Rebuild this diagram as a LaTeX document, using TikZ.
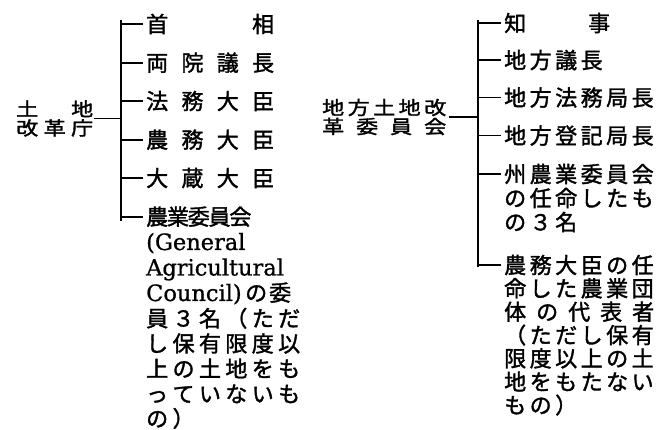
\documentclass[tikz,border=0pt]{standalone}
\usepackage{fontspec}
\usepackage{graphicx}
\setmainfont{DejaVu Serif}
\newfontfamily\jp{Noto Sans CJK JP}[FakeBold=1.6]
\newfontfamily\lat{DejaVu Serif}[FakeBold=0.8]
\newcommand\jpf{\jp\fontsize{22pt}{26pt}\selectfont}
\newcommand\latf{\lat\fontsize{22.5pt}{26pt}\selectfont}
\newlength\cpitch
\def\pl#1#2{\ifx\relax#2#1\else\hbox to\cpitch{#1\hss}\expandafter\pl\expandafter#2\fi}
\newcommand\spaced[2]{\setlength\cpitch{#1}\pl#2\relax}
\newcommand\sq[2]{\scalebox{1}[0.85]{\spaced{#1}{#2}}}
\tikzset{
  item/.style={anchor=base west, inner sep=0pt, font=\jpf},
  latline/.style={anchor=base west, inner sep=0pt, font=\latf},
  parent/.style={anchor=west, inner sep=0pt, align=left, font=\jp\fontsize{22pt}{19pt}\selectfont},
  conn/.style={line width=1.8pt, draw=black}
}
\begin{document}
\begin{tikzpicture}[x=1pt,y=-1pt]
\useasboundingbox[fill=white] (0,0) rectangle (672,430);

% ---- left tree ----
\coordinate (barLtop) at (121,20);
\coordinate (barLbot) at (121,221);
\node[parent] (lp) at (16,118.5) {\sq{27.5pt}{土　地}\\\sq{27.5pt}{改革庁}};

\node[item] (L1) at (146,32.4) {\spaced{35.3pt}{首　　相}};
\node[item] (L2) at (146,71) {\spaced{35.3pt}{両院議長}};
\node[item] (L3) at (146,109.4) {\spaced{35.3pt}{法務大臣}};
\node[item] (L4) at (146,148) {\spaced{35.3pt}{農務大臣}};
\node[item] (L5) at (146,186.4) {\spaced{35.3pt}{大蔵大臣}};
\node[item] (L6) at (146,225) {\spaced{20.8pt}{農業委員会}};
\node[latline] (L6b) at (146,250) {(General};
\node[latline] (L6c) at (146,275.5) {Agricultural};
\node[item] (L6d) at (146,301) {\makebox[99pt][l]{\latf Council)}\spaced{24pt}{の委}};
\node[item] (L6e) at (146,326.6) {\spaced{26.4pt}{員３名（ただ}};
\node[item] (L6f) at (146,351.8) {\spaced{26.4pt}{し保有限度以}};
\node[item] (L6g) at (146,377) {\spaced{26.4pt}{上の土地をも}};
\node[item] (L6h) at (146,402.2) {\spaced{26.4pt}{っていないも}};
\node[item] (L6i) at (146,426.8) {\spaced{26.4pt}{の）}};

\draw[conn] (barLtop) -- (barLbot);
\draw[conn] ([xshift=1pt]lp.east) -- (lp.east -| barLtop);
\foreach \n in {L1,L2,L3,L4,L5,L6}
  \draw[conn] (\n.west -| barLtop) -- ([xshift=-3pt]\n.west);

% ---- right tree ----
\coordinate (barRtop) at (478,20);
\coordinate (barRbot) at (478,267);
\node[parent] (rp) at (322,117) {\sq{25.5pt}{地方土地改}\\\sq{34pt}{革委員会}};

\node[item] (R1) at (504,31.4) {\spaced{28pt}{知　　事}};
\node[item] (R2) at (504,68.4) {\spaced{25.5pt}{地方議長}};
\node[item] (R3) at (504,105.9) {\spaced{25.5pt}{地方法務局長}};
\node[item] (R4) at (504,143.9) {\spaced{25.5pt}{地方登記局長}};
\node[item] (R5) at (504,182.4) {\spaced{25.5pt}{州農業委員会}};
\node[item] (R5b) at (504,206.4) {\spaced{25.5pt}{の任命したも}};
\node[item] (R5c) at (504,230.4) {\spaced{25.5pt}{の３名}};
\node[item] (R6) at (504,273.4) {\spaced{25.5pt}{農務大臣の任}};
\node[item] (R6b) at (504,296.7) {\spaced{25.5pt}{命した農業団}};
\node[item] (R6c) at (504,320.1) {\spaced{32pt}{体の代表者}};
\node[item] (R6d) at (504,343.4) {\spaced{25.5pt}{（ただし保有}};
\node[item] (R6e) at (504,366.7) {\spaced{25.5pt}{限度以上の土}};
\node[item] (R6f) at (504,390.1) {\spaced{25.5pt}{地をもたない}};
\node[item] (R6g) at (504,413.4) {\spaced{25.5pt}{もの）}};

\draw[conn] (barRtop) -- (barRbot);
\draw[conn] ([xshift=3pt]rp.east) -- (rp.east -| barRtop);
\foreach \n in {R1,R2,R3,R4,R5,R6}
  \draw[conn] (\n.west -| barRtop) -- ([xshift=-3pt]\n.west);
\end{tikzpicture}
\end{document}
